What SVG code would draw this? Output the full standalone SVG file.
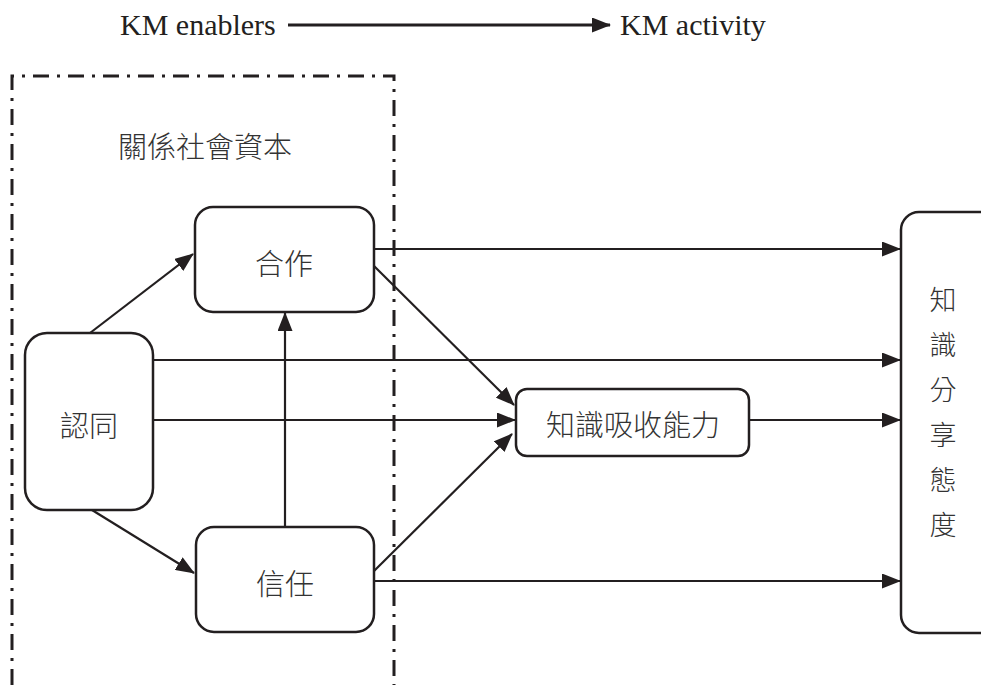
<svg xmlns="http://www.w3.org/2000/svg" width="981" height="685" viewBox="0 0 981 685">
<style>
.node{fill:#fff;stroke:#231f20;stroke-width:2.5}
.lbl{font-family:"Noto Sans CJK TC","Noto Sans CJK SC",sans-serif;font-size:29px;fill:#333;text-anchor:middle;dominant-baseline:central;font-weight:300}
.en{font-family:"Liberation Serif","Times New Roman",serif;font-size:30px;fill:#231f20}
.edge{fill:none;stroke:#231f20;stroke-width:2.2}
.frame{fill:none;stroke:#231f20;stroke-width:3;stroke-dasharray:16 8 3 8}
</style>
<defs>
<marker id="ah" markerUnits="userSpaceOnUse" markerWidth="19" markerHeight="15" refX="18" refY="7.5" orient="auto">
<path d="M0,0 L19,7.5 L0,15 Z" fill="#231f20"/>
</marker>
</defs>
<rect width="981" height="685" fill="#fff"/>
<g id="header">
<text class="en" x="120" y="35">KM enablers</text>
<line class="edge" x1="288" y1="25" x2="610" y2="25" style="stroke-width:3" marker-end="url(#ah)"/>
<text class="en" x="620" y="35">KM activity</text>
</g>
<g id="frame">
<path class="frame" d="M12,685 L12,76 L394,76 L394,685"/>
<text class="lbl" x="205" y="145">關係社會資本</text>
</g>
<g id="connectors">
<line class="edge" x1="374" y1="249" x2="900" y2="249" marker-end="url(#ah)"/>
<line class="edge" x1="153" y1="360" x2="900" y2="360" marker-end="url(#ah)"/>
<line class="edge" x1="153" y1="420" x2="515" y2="420" marker-end="url(#ah)"/>
<line class="edge" x1="749" y1="420" x2="900" y2="420" marker-end="url(#ah)"/>
<line class="edge" x1="374" y1="581" x2="900" y2="581" marker-end="url(#ah)"/>
<line class="edge" x1="90" y1="333" x2="193" y2="254" marker-end="url(#ah)"/>
<line class="edge" x1="92" y1="510" x2="194" y2="573" marker-end="url(#ah)"/>
<line class="edge" x1="285" y1="527" x2="285" y2="313" marker-end="url(#ah)"/>
<line class="edge" x1="373" y1="265" x2="514" y2="405" marker-end="url(#ah)"/>
<line class="edge" x1="372" y1="573" x2="512" y2="434" marker-end="url(#ah)"/>
</g>
<g id="n-hezuo">
<rect class="node" x="195" y="207" width="179" height="105" rx="18"/>
<text class="lbl" x="284" y="262">合作</text>
</g>
<g id="n-rentong">
<rect class="node" x="25" y="333" width="128" height="177" rx="22"/>
<text class="lbl" x="89" y="424">認同</text>
</g>
<g id="n-xinren">
<rect class="node" x="196" y="527" width="178" height="105" rx="18"/>
<text class="lbl" x="285" y="582">信任</text>
</g>
<g id="n-absorb">
<rect class="node" x="516" y="389" width="233" height="67" rx="11"/>
<text class="lbl" x="633" y="423">知識吸收能力</text>
</g>
<g id="n-share">
<rect class="node" x="901" y="212" width="110" height="421" rx="18"/>
<text class="lbl" x="943" y="298" style="font-size:27px">知</text>
<text class="lbl" x="943" y="343" style="font-size:27px">識</text>
<text class="lbl" x="943" y="388" style="font-size:27px">分</text>
<text class="lbl" x="943" y="433" style="font-size:27px">享</text>
<text class="lbl" x="943" y="478" style="font-size:27px">態</text>
<text class="lbl" x="943" y="523" style="font-size:27px">度</text>
</g>
</svg>
